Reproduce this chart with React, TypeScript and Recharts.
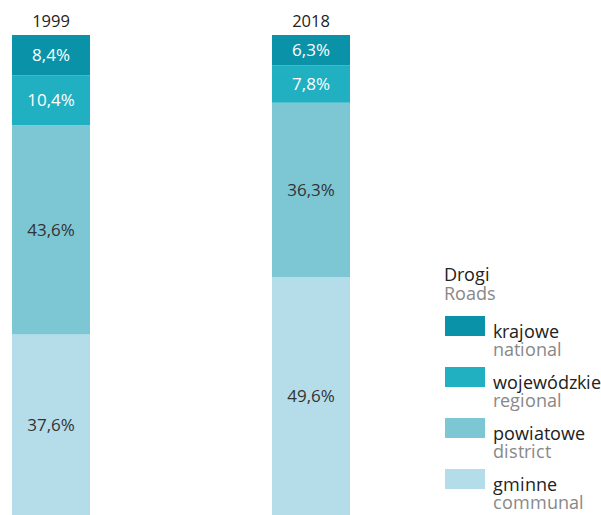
import React from 'react';
import { BarChart, Bar, XAxis, YAxis, LabelList } from 'recharts';

const years = ['1999', '2018'];
const krajowe = [8.4, 6.3];
const wojewodzkie = [10.4, 7.8];
const powiatowe = [43.6, 36.3];
const gminne = [37.6, 49.6];

const series = [
  { key: 'gminne', pl: 'gminne', en: 'communal', color: '#b5dde9', text: '#333' },
  { key: 'powiatowe', pl: 'powiatowe', en: 'district', color: '#7dc7d4', text: '#333' },
  { key: 'wojewodzkie', pl: 'wojewódzkie', en: 'regional', color: '#21b0c1', text: '#fff' },
  { key: 'krajowe', pl: 'krajowe', en: 'national', color: '#0a93a8', text: '#fff' },
];

const data = years.map((year, i) => ({
  year,
  krajowe: krajowe[i],
  wojewodzkie: wojewodzkie[i],
  powiatowe: powiatowe[i],
  gminne: gminne[i],
}));

const font = '"Open Sans", "Noto Sans", sans-serif';
// same face with tighter line metrics, so the two-line legend entries don't overlap
const legendFont = '"OpenSansTight", "Open Sans", sans-serif';
const fontCss = `
body{margin:0}
@font-face{
  font-family:"OpenSansTight";
  src: local("Open Sans"), local("Open Sans Regular"), local("OpenSans-Regular");
  ascent-override: 78%;
  descent-override: 22%;
  line-gap-override: 0%;
}`;

const fmt = (v: any) => `${Number(v).toFixed(1).replace('.', ',')}%`;

function RoadsLegend() {
  const items = [...series].reverse();
  return (
    <div style={{ position: 'absolute', left: 444, top: 0, fontFamily: legendFont, fontSize: 17.5 }}>
      <div style={{ position: 'absolute', top: 267, whiteSpace: 'nowrap' }}>
        <div style={{ color: '#222', lineHeight: '18px' }}>Drogi</div>
        <div style={{ color: '#888', lineHeight: '18px', marginTop: 1 }}>Roads</div>
      </div>
      {items.map((s, i) => (
        <div key={s.key} style={{ position: 'absolute', top: 316 + i * 51, left: 0, whiteSpace: 'nowrap' }}>
          <div style={{ position: 'absolute', left: 1, top: 0, width: 40, height: 20, background: s.color }} />
          <div style={{ position: 'absolute', left: 49, top: 8, lineHeight: '18px' }}>
            <div style={{ color: '#222' }}>{s.pl}</div>
            <div style={{ color: '#888' }}>{s.en}</div>
          </div>
        </div>
      ))}
    </div>
  );
}

export default function App() {
  return (
    <div style={{ position: 'relative', width: 601, height: 515, background: '#fff', overflow: 'hidden' }}>
      <style>{fontCss}</style>
      <BarChart width={601} height={515} data={data} margin={{ top: 0, right: 160, bottom: 0, left: -79 }}>
        <XAxis
          dataKey="year"
          orientation="top"
          height={35}
          axisLine={false}
          tickLine={false}
          tick={{ fill: '#222', fontSize: 16.5, fontFamily: font }}
        />
        <YAxis hide domain={[0, 100]} />
        {series.map((s) => (
          <Bar key={s.key} dataKey={s.key} stackId="a" fill={s.color} barSize={78} isAnimationActive={false}>
            <LabelList
              dataKey={s.key}
              position="center"
              formatter={fmt}
              style={{ fill: s.text, fontSize: 17, fontFamily: font }}
            />
          </Bar>
        ))}
      </BarChart>
      <RoadsLegend />
    </div>
  );
}
